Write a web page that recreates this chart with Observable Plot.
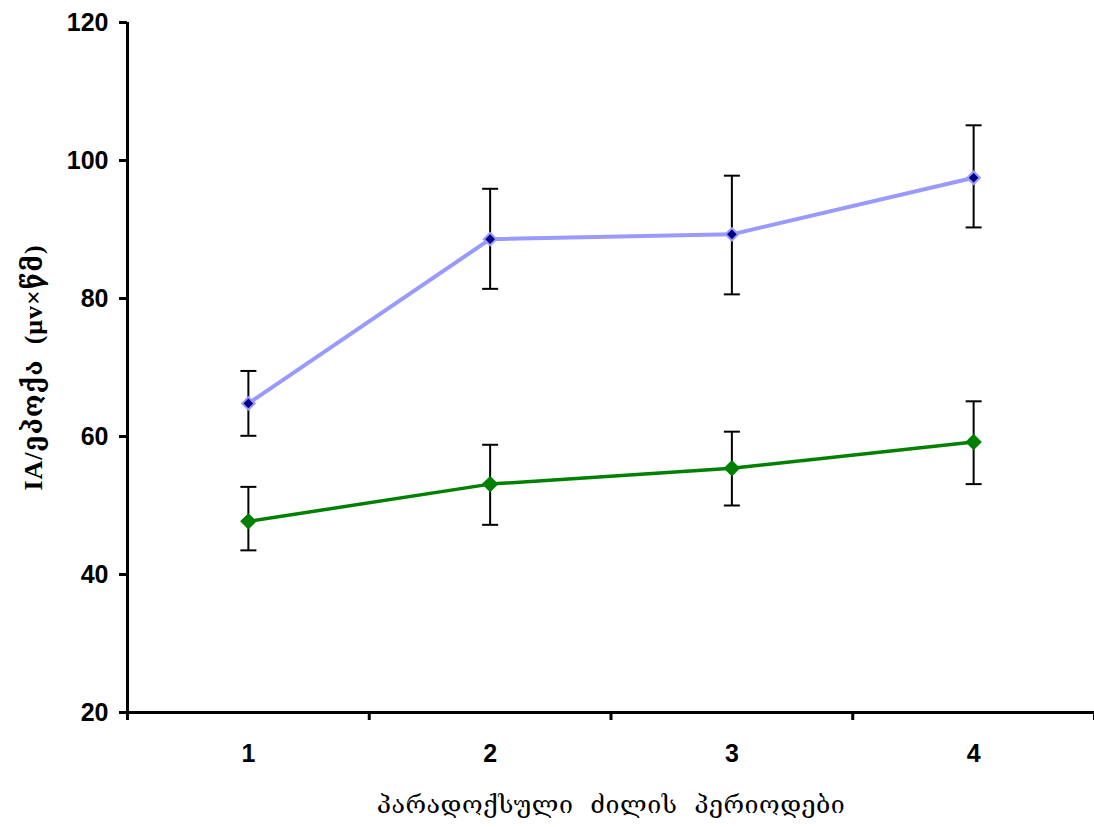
<!DOCTYPE html>
<html>
<head>
<meta charset="utf-8">
<script src="https://cdn.jsdelivr.net/npm/d3@7"></script>
<script src="https://cdn.jsdelivr.net/npm/@observablehq/plot@0.6"></script>
<style>
  html, body { margin: 0; padding: 0; background: #fff; }
  #chart svg { display: block; }
</style>
</head>
<body>
<div id="chart"></div>
<script>
// Paradoxical sleep periods
const periods = [1, 2, 3, 4];

// Upper series (light blue line, navy diamonds)
const upperMean = [64.8, 88.6, 89.3, 97.5];
const upperHigh = [69.5, 95.9, 97.8, 105.1];
const upperLow  = [60.1, 81.4, 80.6, 90.3];

// Lower series (green)
const lowerMean = [47.7, 53.1, 55.4, 59.2];
const lowerHigh = [52.7, 58.8, 60.7, 65.1];
const lowerLow  = [43.5, 47.2, 50.0, 53.1];

const yTicks = [20, 40, 60, 80, 100, 120];
const xLabel = "პარადოქსული  ძილის  პერიოდები";
const yLabel = "IA/ეპოქა  (μv×წმ)";

const rows = (mean, hi, lo, series) =>
  periods.map((p, i) => ({period: p, mean: mean[i], hi: hi[i], lo: lo[i], series}));
const upper = rows(upperMean, upperHigh, upperLow, "upper");
const lower = rows(lowerMean, lowerHigh, lowerLow, "lower");
const all = upper.concat(lower);

// horizontal cap for the error bars
const capSymbol = {draw(ctx) { ctx.moveTo(-8, 0); ctx.lineTo(8, 0); }};

const numFont = {fontFamily: "'Liberation Sans', Arial, sans-serif", fontSize: 25, fontWeight: "bold"};

const chart = Plot.plot({
  width: 1094,
  height: 827,
  marginLeft: 127,
  marginRight: 0,
  marginTop: 22,
  marginBottom: 115,
  style: {background: "white", color: "black", overflow: "visible"},
  x: {domain: [0.5, 4.5], axis: null},
  y: {domain: [20, 120], axis: null},
  marks: [
    // y axis ticks and labels
    Plot.axisY({ticks: yTicks, tickSize: 8, tickPadding: 11, strokeWidth: 3, ...numFont, label: null}),
    // x axis band boundary ticks
    Plot.axisX({ticks: [0.5, 1.5, 2.5, 3.5, 4.5], tickSize: 8, tickFormat: () => "", strokeWidth: 3, label: null}),
    // x axis category labels
    Plot.axisX({ticks: periods, tickSize: 0, tickPadding: 32, tickFormat: d => String(d), ...numFont, label: null}),
    // axis lines
    Plot.ruleX([0.5], {y1: 20, y2: 120, stroke: "black", strokeWidth: 3}),
    Plot.ruleY([20], {x1: 0.5, x2: 4.5, stroke: "black", strokeWidth: 3}),
    // error bars
    Plot.ruleX(all, {x: "period", y1: "lo", y2: "hi", stroke: "black", strokeWidth: 2}),
    Plot.dot(all, {x: "period", y: "hi", symbol: capSymbol, stroke: "black", strokeWidth: 2, fill: "none"}),
    Plot.dot(all, {x: "period", y: "lo", symbol: capSymbol, stroke: "black", strokeWidth: 2, fill: "none"}),
    // series lines
    Plot.line(upper, {x: "period", y: "mean", stroke: "#9999ff", strokeWidth: 4}),
    Plot.line(lower, {x: "period", y: "mean", stroke: "#008000", strokeWidth: 3.5}),
    // diamond markers
    Plot.dot(upper, {x: "period", y: "mean", symbol: "square", rotate: 45, r: 5, fill: "#000080", stroke: "#9999ff", strokeWidth: 2}),
    Plot.dot(lower, {x: "period", y: "mean", symbol: "square", rotate: 45, r: 6, fill: "#008000", stroke: "#008000", strokeWidth: 1}),
    // axis titles
    Plot.text([xLabel], {frameAnchor: "bottom", textAnchor: "middle", dy: 100, text: d => d, fontFamily: "'DejaVu Serif', serif", fontSize: 25, fill: "black"}),
    Plot.text([yLabel], {frameAnchor: "left", textAnchor: "middle", dx: -94, rotate: -90, text: d => d, fontFamily: "'Liberation Serif', 'DejaVu Serif', serif", fontSize: 26, fontWeight: "bold", fill: "black"})
  ]
});

// spacing of the axis titles
const titleSpacing = new Map([[xLabel, "0.5px"], [yLabel, "1px"]]);
d3.select(chart).selectAll("text")
  .filter(function() { return titleSpacing.has(this.textContent); })
  .attr("xml:space", "preserve")
  .style("white-space", "pre")
  .style("letter-spacing", function() { return titleSpacing.get(this.textContent); });

document.getElementById("chart").appendChild(chart);
</script>
</body>
</html>
